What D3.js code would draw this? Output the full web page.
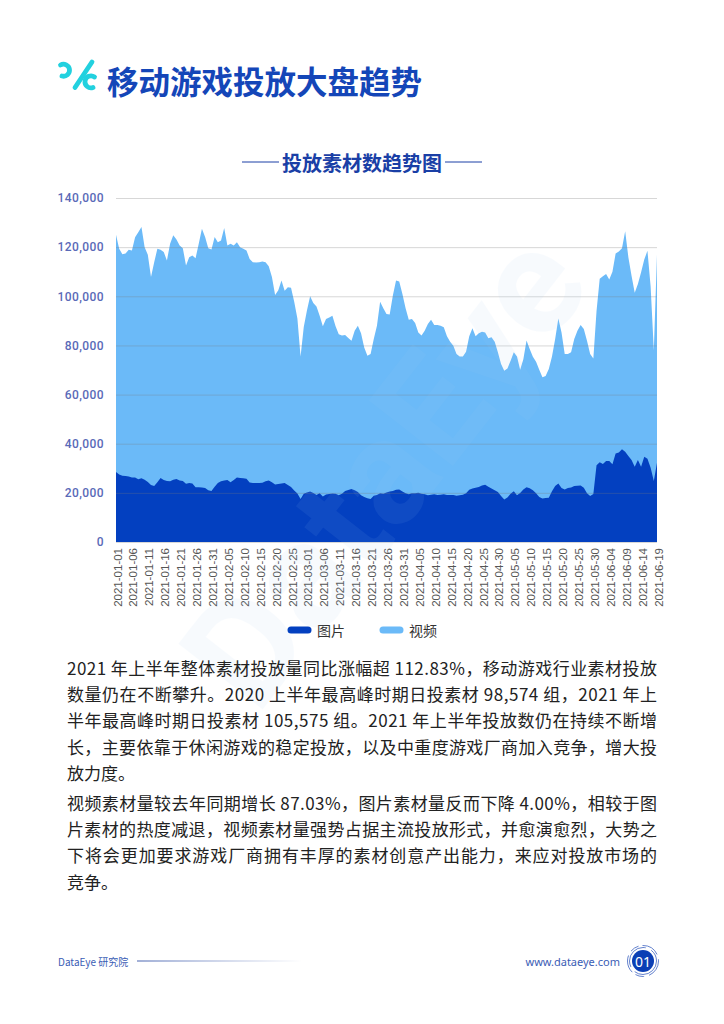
<!DOCTYPE html>
<html>
<head>
<meta charset="utf-8">
<script src="https://cdn.jsdelivr.net/npm/d3@7"></script>
<style>
  body { margin: 0; background: #fff; }
  svg { display: block; }
</style>
</head>
<body>
<svg id="page" width="724" height="1024"></svg>
<script>
// daily counts, 2021-01-01 onwards
var imageValues = [28500,27500,27000,26900,26700,26300,26200,25500,25900,25300,
  24400,23200,22800,24300,26000,25200,24800,24700,25300,25600,
  25000,24800,23700,24000,23800,22300,22300,22200,22000,21100,
  20800,22500,24000,24700,25000,25200,24300,25200,26200,26000,
  25900,25700,24200,24000,24000,24000,24100,24700,25000,24300,
  23400,23600,23800,24000,23200,22400,21000,19700,17500,19600,
  20100,20600,19900,19100,19800,18500,19300,19500,19700,19600,
  19000,19600,20800,21200,21600,21100,20300,19000,18300,17800,
  17500,18800,19100,19800,19600,20100,20600,20800,21300,21400,
  20600,19800,19400,19800,19800,20000,19600,19400,19000,19200,
  19400,19100,19200,19400,19100,19100,19100,18800,19000,19200,
  19800,21300,21800,22100,22400,23000,23300,22500,21800,21100,
  20300,18700,17300,18100,19600,20700,19000,19900,21400,22300,
  21900,21100,19800,18300,17700,17900,18000,20700,22800,23800,
  22000,21400,22000,22200,22800,22900,23000,22100,19800,18700,
  19500,31200,32500,31700,33000,33000,31600,36000,36400,37700,
  36700,35000,33400,30600,33400,30600,34700,33900,30200,24800,
  32300]

var videoValues = [125000,119300,117100,117400,118900,118600,124000,126100,128200,120000,
  116900,107800,113900,119300,118900,118000,114600,121400,124800,123100,
  120700,119600,112500,115900,116600,115500,121400,127500,124100,119600,
  119000,124100,122000,122700,127800,120700,121400,120700,122000,120000,
  119300,118600,115200,113900,113700,113900,114200,113900,112200,107800,
  100500,102500,106400,102300,103700,103500,97800,91000,75500,87500,
  94200,100000,97300,95800,92100,87800,90800,91400,92100,87800,
  84600,84000,84200,83000,81900,86000,88000,85000,79200,75800,
  76500,82600,88000,97800,95100,92800,92600,100300,106400,106000,
  100900,95100,90500,90800,89100,85300,84000,86000,88700,90500,
  88300,88300,88000,87400,83700,81500,79900,76500,75500,75500,
  77400,83700,87000,83700,85000,85600,85300,82900,83300,81500,
  77200,72400,69700,70600,73800,77200,75500,70100,74400,82000,
  78500,75400,73400,70100,67000,67600,70400,75500,82600,91000,
  85300,76500,76500,77200,82600,86000,88300,86700,81900,76500,
  74700,94000,107100,108200,109100,106800,110000,117400,118200,119500,
  126500,115900,108400,101400,105000,109800,115000,118500,104000,78000,
  117000]

// every 5th category carries a label
var tickLabels = ["2021-01-01","2021-01-06","2021-01-11","2021-01-16","2021-01-21",
  "2021-01-26","2021-01-31","2021-02-05","2021-02-10","2021-02-15","2021-02-20",
  "2021-02-25","2021-03-01","2021-03-06","2021-03-11","2021-03-16","2021-03-21",
  "2021-03-26","2021-03-31","2021-04-05","2021-04-10","2021-04-15","2021-04-20",
  "2021-04-25","2021-04-30","2021-05-05","2021-05-10","2021-05-15","2021-05-20",
  "2021-05-25","2021-05-30","2021-06-04","2021-06-09","2021-06-14","2021-06-19"]
var tickStep = 5

var yTicks = [0, 20000, 40000, 60000, 80000, 100000, 120000, 140000]
var seriesNames = ["图片", "视频"]
var seriesColors = ["#0340c0", "#6bbaf8"]

var paragraphOne = [
  "2021 年上半年整体素材投放量同比涨幅超 112.83%，移动游戏行业素材投放",
  "数量仍在不断攀升。2020 上半年最高峰时期日投素材 98,574 组，2021 年上",
  "半年最高峰时期日投素材 105,575 组。2021 年上半年投放数仍在持续不断增",
  "长，主要依靠于休闲游戏的稳定投放，以及中重度游戏厂商加入竞争，增大投",
  "放力度。"
]
var paragraphTwo = [
  "视频素材量较去年同期增长 87.03%，图片素材量反而下降 4.00%，相较于图",
  "片素材的热度减退，视频素材量强势占据主流投放形式，并愈演愈烈，大势之",
  "下将会更加要求游戏厂商拥有丰厚的素材创意产出能力，来应对投放市场的",
  "竞争。"
]

var cjk = "'Noto Sans CJK SC', 'Noto Sans', sans-serif"
var svg = d3.select("#page")

// ---- header
var logo = svg.append("g")
    .attr("fill", "none")
    .attr("stroke", "#22d1df")
    .attr("stroke-width", 4.8)
    .attr("stroke-linecap", "round")
logo.append("path").attr("d", "M60.5,65 A6,6 0 1 1 62,76")
logo.append("path").attr("d", "M92,62 L75,87.5")
logo.append("path").attr("d", "M94.5,77 A6,6 0 1 0 93,87.5")

svg.append("text")
    .attr("x", 107).attr("y", 80)
    .attr("dominant-baseline", "central")
    .style("font-family", cjk)
    .style("font-weight", 700)
    .style("font-size", "31.5px")
    .attr("fill", "#1446b8")
    .text("移动游戏投放大盘趋势")

svg.append("text")
    .attr("x", 362).attr("y", 162)
    .attr("text-anchor", "middle")
    .attr("dominant-baseline", "central")
    .style("font-family", cjk)
    .style("font-weight", 700)
    .style("font-size", "20px")
    .attr("fill", "#1a3fa6")
    .text("投放素材数趋势图")
svg.append("line").attr("x1", 242).attr("x2", 279).attr("y1", 162).attr("y2", 162)
    .attr("stroke", "#1a3fa6").attr("stroke-width", 1)
svg.append("line").attr("x1", 445).attr("x2", 482).attr("y1", 162).attr("y2", 162)
    .attr("stroke", "#1a3fa6").attr("stroke-width", 1)

// ---- chart
var plotLeft = 116, plotRight = 657, plotTop = 198, plotBottom = 542

var x = d3.scaleLinear()
    .domain([0, videoValues.length - 1])
    .range([plotLeft, plotRight])
var y = d3.scaleLinear()
    .domain([0, 140000])
    .range([plotBottom, plotTop])

var area = function(values) {
    return d3.area()
        .x(function(d, i) { return x(i) })
        .y0(y(0))
        .y1(function(d) { return y(d) })(values)
}

var plot = svg.append("g")
plot.append("path").attr("d", area(videoValues)).attr("fill", seriesColors[1])
plot.append("path").attr("d", area(imageValues)).attr("fill", seriesColors[0])

var yAxis = d3.axisLeft(y)
    .tickValues(yTicks)
    .tickSize(-(plotRight - plotLeft))
    .tickPadding(12)
    .tickFormat(d3.format(","))
var yg = svg.append("g")
    .attr("transform", "translate(" + plotLeft + ",0)")
    .call(yAxis)
yg.select(".domain").remove()
yg.selectAll(".tick line")
    .attr("stroke", "#7a7a7a")
    .attr("stroke-opacity", 0.3)
yg.selectAll(".tick text")
    .attr("fill", "#5a6ab8")
    .style("font-family", "Roboto, 'DejaVu Sans', sans-serif")
    .style("font-weight", 500)
    .style("font-size", "12px")
    .style("letter-spacing", "0.4px")

var xAxis = d3.axisBottom(x)
    .tickValues(d3.range(tickLabels.length).map(function(k) { return k * tickStep }))
    .tickSize(0)
    .tickFormat(function(d) { return tickLabels[d / tickStep] })
var xg = svg.append("g")
    .attr("transform", "translate(0," + plotBottom + ")")
    .call(xAxis)
xg.select(".domain").remove()
xg.selectAll(".tick text")
    .attr("transform", "rotate(-90)")
    .attr("text-anchor", "end")
    .attr("x", -6)
    .attr("y", 1)
    .attr("dy", "0.35em")
    .attr("fill", "#555")
    .style("font-family", "'Liberation Sans', Arial, sans-serif")
    .style("font-size", "11.5px")

// ---- legend
var legend = svg.append("g")
    .selectAll("g")
    .data(seriesNames)
    .enter()
    .append("g")
    .attr("transform", function(d, i) { return "translate(" + (291 + i * 92) + ",630)" })
legend.append("line")
    .attr("x1", 0).attr("x2", 17)
    .attr("stroke", function(d, i) { return seriesColors[i] })
    .attr("stroke-width", 7)
    .attr("stroke-linecap", "round")
legend.append("text")
    .attr("x", 26)
    .attr("dominant-baseline", "central")
    .style("font-family", cjk)
    .style("font-size", "14px")
    .attr("fill", "#333")
    .text(function(d) { return d })

// ---- watermark
svg.append("text")
    .attr("transform", "translate(385,470) rotate(-52)")
    .attr("text-anchor", "middle")
    .attr("dominant-baseline", "central")
    .style("font-family", "Roboto, sans-serif")
    .style("font-weight", 700)
    .style("font-size", "150px")
    .attr("fill", "#9fcaf2")
    .attr("opacity", 0.08)
    .text("DataEye")

// ---- body text
function writeParagraph(lines, y0) {
    svg.append("g").selectAll("text")
        .data(lines)
        .enter()
        .append("text")
        .attr("x", 67)
        .attr("y", function(d, i) { return y0 + i * 26.4 })
        .attr("dominant-baseline", "central")
        .attr("textLength", function(d, i) { return i < lines.length - 1 ? 590 : null })
        .attr("lengthAdjust", "spacing")
        .style("font-family", cjk)
        .style("font-size", "17px")
        .attr("fill", "#222")
        .text(function(d) { return d })
}
writeParagraph(paragraphOne, 667)
writeParagraph(paragraphTwo, 802)

// ---- footer
var grad = svg.append("defs").append("linearGradient").attr("id", "fade")
grad.append("stop").attr("offset", "0%").attr("stop-color", "#4763b0")
grad.append("stop").attr("offset", "100%").attr("stop-color", "#ffffff")
svg.append("text")
    .attr("x", 58).attr("y", 961)
    .attr("dominant-baseline", "central")
    .style("font-family", cjk)
    .style("font-size", "10px")
    .attr("fill", "#3b5db5")
    .text("DataEye 研究院")
svg.append("rect")
    .attr("x", 137).attr("y", 960.5).attr("width", 165).attr("height", 1)
    .attr("fill", "url(#fade)")
svg.append("text")
    .attr("x", 620).attr("y", 961)
    .attr("text-anchor", "end")
    .attr("dominant-baseline", "central")
    .style("font-family", "'Noto Sans', sans-serif")
    .style("font-size", "11px")
    .attr("fill", "#3b5db5")
    .text("www.dataeye.com")

var badge = svg.append("g").attr("transform", "translate(643,961)")
badge.append("circle").attr("r", 15.5)
    .attr("fill", "none").attr("stroke", "#3c62c0").attr("stroke-width", 0.8)
    .attr("stroke-dasharray", "18 5 9 4")
badge.append("circle").attr("r", 13.5)
    .attr("fill", "none").attr("stroke", "#3c62c0").attr("stroke-width", 0.8)
    .attr("stroke-dasharray", "30 6")
badge.append("circle").attr("r", 11).attr("fill", "#0b3fb5")
badge.append("text")
    .attr("text-anchor", "middle")
    .attr("dominant-baseline", "central")
    .style("font-family", "'Noto Sans', sans-serif")
    .style("font-size", "14px")
    .attr("fill", "#fff")
    .text("01")
</script>
</body>
</html>
